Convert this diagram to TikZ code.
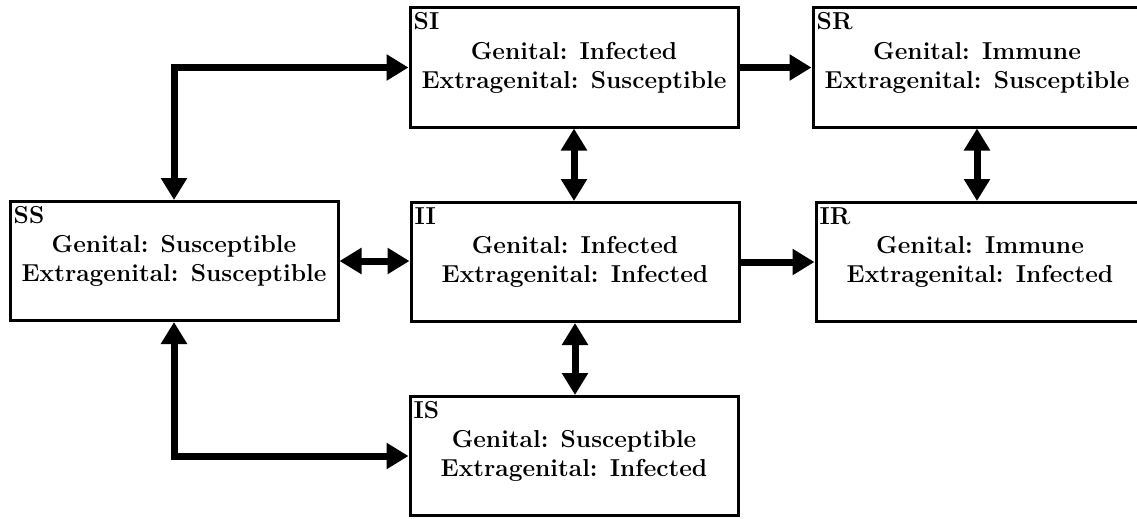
\documentclass[tikz,border=0pt]{standalone}
\usepackage{fontspec}
\usetikzlibrary{arrows.meta}
\tikzset{
  statebox/.style={draw, line width=3pt, minimum width=328pt, minimum height=119pt, inner sep=0pt, align=center, font=\fontsize{24.5}{29}\selectfont\bfseries},
  tag/.style={anchor=north west, inner sep=0pt, font=\fontsize{24.5}{29}\selectfont\bfseries},
  tip/.style={},
  conn/.style={line width=7pt, -{Triangle[length=22pt,width=25pt]}},
  biconn/.style={line width=7pt, {Triangle[length=22pt,width=25pt]}-{Triangle[length=22pt,width=25pt]}}
}
\begin{document}
\begin{tikzpicture}[x=1pt,y=-1pt]
\useasboundingbox (0,0) rectangle (1137,519);
\clip (0,0) rectangle (1137,519);
\node[statebox] (SS) at (174,261) {Genital: Susceptible\\Extragenital: Susceptible};
\node[statebox] (SI) at (574,67.5) {Genital: Infected\\Extragenital: Susceptible};
\node[statebox] (II) at (575,262) {Genital: Infected\\Extragenital: Infected};
\node[statebox] (IS) at (574,456) {Genital: Susceptible\\Extragenital: Infected};
\node[statebox] (SR) at (977,67.5) {Genital: Immune\\Extragenital: Susceptible};
\node[statebox] (IR) at (980,262) {Genital: Immune\\Extragenital: Infected};
\node[tag] (SSt) at ([xshift=5pt,yshift=-6pt]SS.north west) {SS};
\node[tag] (SIt) at ([xshift=5pt,yshift=-6pt]SI.north west) {SI};
\node[tag] (IIt) at ([xshift=5pt,yshift=-6pt]II.north west) {II};
\node[tag] (ISt) at ([xshift=5pt,yshift=-6pt]IS.north west) {IS};
\node[tag] (SRt) at ([xshift=5pt,yshift=-6pt]SR.north west) {SR};
\node[tag] (IRt) at ([xshift=5pt,yshift=-6pt]IR.north west) {IR};
\draw[biconn] (SS.north) |- (SI.west);
\draw[biconn] (SS.south) |- (IS.west);
\draw[conn] (SI.east) -- (SR.west);
\draw[biconn] (SS.east) -- (SS.east -| II.west);
\draw[conn] (II.east) -- (II.east -| IR.west);
\draw[biconn] (SI.south) -- (SI.south |- II.north);
\draw[biconn] (II.south) -- (II.south |- IS.north);
\draw[biconn] (SR.south) -- (SR.south |- IR.north);
\end{tikzpicture}
\end{document}
